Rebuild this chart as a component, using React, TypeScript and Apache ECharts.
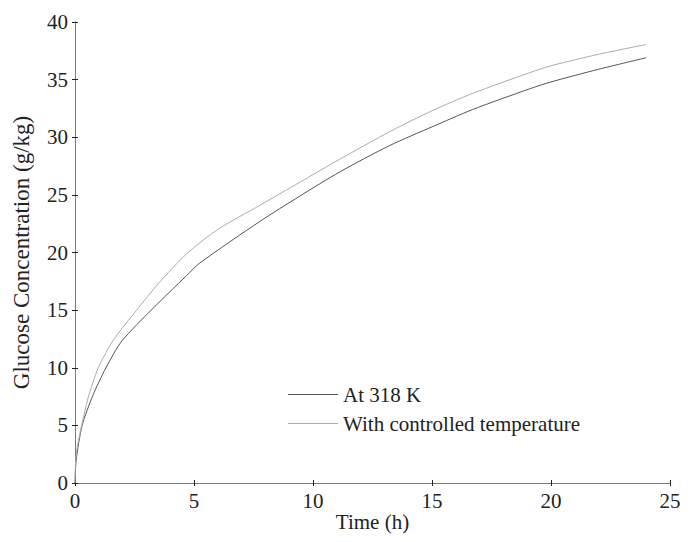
import React, { useEffect, useRef } from "react";
import * as echarts from "echarts";

const timeUpper = [0, 0.05, 0.28, 0.56, 0.98, 1.61, 2.59, 3.5, 4.7, 6, 7.77, 9.45, 11.13, 13.24, 15, 16.7, 19.1, 20, 22, 24];
const controlledTemp = [0, 2.5, 5, 7.45, 10, 12.4, 15, 17.3, 19.9, 22.0, 24.1, 26.1, 28.1, 30.5, 32.3, 33.8, 35.6, 36.2, 37.2, 38.05];
const timeLower = [0, 0.05, 0.3, 0.75, 1.3, 1.96, 3.2, 4.69, 5.25, 7.77, 9.45, 11.13, 13.24, 15, 16.7, 19.1, 20, 22, 24];
const at318K = [0, 2.0, 5, 7.6, 10, 12.3, 15, 18.0, 19.1, 22.7, 24.9, 27.0, 29.3, 30.9, 32.4, 34.2, 34.8, 35.9, 36.9];
const xTicks = [0, 5, 10, 15, 20, 25];
const yTicks = [0, 5, 10, 15, 20, 25, 30, 35, 40];
const seriesNames = ["At 318 K", "With controlled temperature"];

const FONT = "Liberation Serif";

export default function App() {
  const ref = useRef<HTMLDivElement>(null);
  useEffect(() => {
    if (!ref.current) return;
    const chart = echarts.init(ref.current, null, { renderer: "svg" });
    const axisLine = { show: true, lineStyle: { color: "#7a7a7a", width: 1 } };
    const tick = { show: true, inside: true, length: 3, lineStyle: { color: "#222", width: 1 } };
    chart.setOption({
      animation: false,
      backgroundColor: "#ffffff",
      grid: { left: 67, right: 18, top: 14, bottom: 51, containLabel: false, outerBoundsMode: "none" },
      legend: {
        show: true,
        left: 275,
        top: 371,
        orient: "vertical",
        itemWidth: 50,
        itemHeight: 1,
        itemGap: 8,
        icon: "rect",
        textStyle: { fontFamily: FONT, fontSize: 21, color: "#222" },
        data: seriesNames,
      },
      xAxis: [
        {
          type: "value",
          min: 0,
          max: 25,
          interval: 5,
          name: "Time (h)",
          nameLocation: "middle",
          nameGap: 39,
          nameMoveOverlap: false,
          nameTextStyle: { fontFamily: FONT, fontSize: 21, color: "#222", verticalAlign: "middle" },
          axisLine,
          axisTick: tick,
          axisLabel: { fontFamily: FONT, fontSize: 21, color: "#222", margin: 7, formatter: (v: number) => (xTicks.includes(v) ? String(v) : "") },
          splitLine: { show: false },
        },
        {
          type: "value",
          position: "top",
          min: 0,
          max: 25,
          interval: 5,
          axisLine,
          axisTick: tick,
          axisLabel: { show: false },
          splitLine: { show: false },
        },
      ],
      yAxis: [
        {
          type: "value",
          min: 0,
          max: 40,
          interval: 5,
          name: "Glucose Concentration (g/kg)",
          nameLocation: "middle",
          nameGap: 42,
          nameMoveOverlap: false,
          nameTextStyle: { fontFamily: FONT, fontSize: 23, color: "#222" },
          axisLine,
          axisTick: tick,
          axisLabel: { fontFamily: FONT, fontSize: 21, color: "#222", margin: 7, formatter: (v: number) => (yTicks.includes(v) ? String(v) : "") },
          splitLine: { show: false },
        },
        {
          type: "value",
          position: "right",
          min: 0,
          max: 40,
          interval: 5,
          axisLine,
          axisTick: tick,
          axisLabel: { show: false },
          splitLine: { show: false },
        },
      ],
      series: [
        {
          name: seriesNames[0],
          type: "line",
          showSymbol: false,
          smooth: 0.25,
          lineStyle: { color: "#555", width: 1 },
          itemStyle: { color: "#555" },
          data: timeLower.map((t, i) => [t, at318K[i]]),
        },
        {
          name: seriesNames[1],
          type: "line",
          showSymbol: false,
          smooth: 0.25,
          lineStyle: { color: "#aaa", width: 1 },
          itemStyle: { color: "#aaa" },
          data: timeUpper.map((t, i) => [t, controlledTemp[i]]),
        },
      ],
    });
    return () => chart.dispose();
  }, []);
  return <div ref={ref} style={{ width: 680, height: 526 }} />;
}
